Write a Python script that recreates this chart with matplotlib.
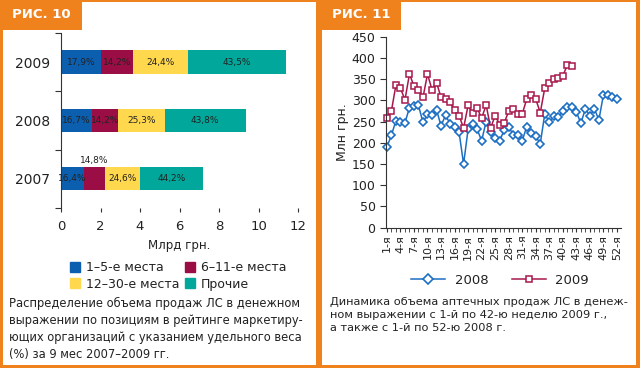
import matplotlib.pyplot as plt
from matplotlib.patches import Rectangle, Patch
from matplotlib.lines import Line2D
import numpy as np

plt.rcParams['font.family'] = ['DejaVu Sans']

ORANGE = '#F0821E'
BLUE = '#0B5FAE'
MAROON = '#9A0D45'
YELLOW = '#FFD84D'
TEAL = '#00A79A'
LBLUE = '#1C6FC2'
RED = '#A8174C'
TXT = '#222222'

# --- рис. 10: данные ---
years = ['2007', '2008', '2009']
totals = [7.17, 9.35, 11.39]          # млрд грн.
share_1_5 = [16.4, 16.7, 17.9]
share_6_11 = [14.8, 14.2, 14.2]
share_12_30 = [24.6, 25.3, 24.4]
share_other = [44.2, 43.8, 43.5]
legend_names = ['1–5-е места', '6–11-е места', '12–30-е места', 'Прочие']

# --- рис. 11: данные (млн грн.) ---
sales_2008 = [190, 218, 252, 250, 247, 283, 287, 288, 248, 268, 265, 278, 240,
              265, 245, 237, 225, 150, 232, 245, 232, 205, 250, 226, 212, 205,
              230, 238, 219, 219, 205, 238, 222, 215, 198, 268, 249, 262, 260,
              275, 284, 284, 273, 246, 280, 264, 280, 254, 313, 313, 309, 303]
sales_2009 = [258, 275, 336, 329, 301, 362, 334, 325, 307, 362, 325, 342, 307,
              303, 295, 278, 264, 235, 288, 271, 282, 258, 289, 235, 264, 243,
              247, 274, 279, 268, 268, 303, 313, 303, 271, 329, 340, 350, 352,
              358, 383, 380]
weeks_2008 = np.arange(1, len(sales_2008) + 1)
weeks_2009 = np.arange(1, len(sales_2009) + 1)
week_labels = ['%d-я' % w for w in range(1, 53, 3)]

W, H = 640, 368


def fx(p):
    return p / W


def fy(p):
    return 1 - p / H


def box(x0, y0, x1, y1, color, z):
    fig.add_artist(Rectangle((fx(x0), fy(y1)), (x1 - x0) / W, (y1 - y0) / H,
                             transform=fig.transFigure, color=color, lw=0,
                             zorder=z))


fig = plt.figure(figsize=(6.4, 3.68), dpi=100, facecolor=ORANGE)

# белые панели и вкладки (под осями)
box(3, 2, 316, 365, 'white', -10)
box(322, 2, 636, 365, 'white', -10)
box(0, 0, 82, 30, ORANGE, -9)
box(320, 0, 401, 30, ORANGE, -9)
fig.text(fx(12), fy(14), 'РИС. 10', color='white', fontsize=9.5,
         fontweight='bold', va='center')
fig.text(fx(332), fy(14), 'РИС. 11', color='white', fontsize=9.5,
         fontweight='bold', va='center')

# ---------------- рис. 10 ----------------
ax1 = fig.add_axes([fx(61), fy(208), (298 - 61) / W, 175 / H])
ax1.patch.set_alpha(0)
ypos = np.arange(len(years))
cols = [BLUE, MAROON, YELLOW, TEAL]
shares = [share_1_5, share_6_11, share_12_30, share_other]
left = np.zeros(len(years))
for k, sh in enumerate(shares):
    widths = np.array(totals) * np.array(sh) / 100
    ax1.barh(ypos, widths, left=left, height=0.4, color=cols[k], lw=0)
    for i in range(len(years)):
        lab = ('%.1f%%' % sh[i]).replace('.', ',')
        cx = left[i] + widths[i] / 2
        if i == 0 and k == 1:
            ax1.text(cx, ypos[i] + 0.24, lab, ha='center', va='bottom',
                     fontsize=6.5, color=TXT)
        else:
            ax1.text(cx, ypos[i], lab, ha='center', va='center',
                     fontsize=6.5, color=TXT)
    left += widths

ax1.set_xlim(0, 12)
ax1.set_ylim(-0.5, 2.5)
for s in ['top', 'right', 'bottom']:
    ax1.spines[s].set_visible(False)
ax1.spines['left'].set_color('#333333')
ax1.set_yticks([-0.5, 0.5, 1.5, 2.5])
ax1.set_yticklabels([])
ax1.set_yticks(ypos, minor=True)
ax1.set_yticklabels(years, minor=True, fontsize=10, color=TXT)
ax1.tick_params(axis='y', which='major', length=4, color='#333333')
ax1.tick_params(axis='y', which='minor', length=0, pad=8)
ax1.set_xticks(range(0, 13, 2))
ax1.tick_params(axis='x', length=3, color='#333333', labelsize=9.5,
                labelcolor=TXT, pad=6)
ax1.set_xlabel('Млрд грн.', fontsize=8.5, color=TXT, labelpad=4)

handles = [Patch(color=c) for c in cols]
order = [0, 2, 1, 3]
fig.legend([handles[i] for i in order], [legend_names[i] for i in order],
           ncol=2, loc='center', bbox_to_anchor=(fx(178), fy(276)),
           frameon=False, fontsize=9, handlelength=0.8, handleheight=0.8,
           handletextpad=0.5, columnspacing=0.4, labelspacing=0.25,
           labelcolor=TXT)

fig.text(fx(9), fy(297),
         'Распределение объема продаж ЛС в денежном\n'
         'выражении по позициям в рейтинге маркетиру-\n'
         'ющих организаций с указанием удельного веса\n'
         '(%) за 9 мес 2007–2009 гг.',
         fontsize=8.3, color=TXT, va='top', linespacing=1.4)

# ---------------- рис. 11 ----------------
ax2 = fig.add_axes([fx(386), fy(227.7), (621 - 386) / W, (227.7 - 36.7) / H])
ax2.patch.set_alpha(0)
ax2.plot(weeks_2008, sales_2008, color=LBLUE, lw=1.1, marker='D', ms=4.3,
         mfc='white', mew=1.2, clip_on=False, label='2008')
ax2.plot(weeks_2009, sales_2009, color=RED, lw=1.1, marker='s', ms=4.8,
         mfc='white', mew=1.1, clip_on=False, label='2009')
ax2.set_xlim(0.8, 52.9)
ax2.set_ylim(0, 450)
for s in ['top', 'right']:
    ax2.spines[s].set_visible(False)
ax2.spines['left'].set_color('#333333')
ax2.spines['bottom'].set_color('#333333')
ax2.set_yticks(range(0, 451, 50))
ax2.tick_params(axis='y', length=4, color='#333333', labelsize=9,
                labelcolor=TXT)
ax2.set_xticks(range(1, 53, 3))
ax2.set_xticklabels(week_labels, rotation=90, fontsize=8, color=TXT)
ax2.set_xticks(range(1, 53), minor=True)
ax2.tick_params(axis='x', which='both', length=3, color='#333333', pad=2)
ax2.set_ylabel('Млн грн.', fontsize=9, color=TXT, labelpad=2)

fig.legend(handles=[Line2D([], [], color=LBLUE, lw=1.1, marker='D', ms=5,
                           mfc='white', mew=1.2),
                    Line2D([], [], color=RED, lw=1.1, marker='s', ms=5,
                           mfc='white', mew=1.1)],
           labels=['2008', '2009'], ncol=2, loc='center',
           bbox_to_anchor=(fx(500), fy(280)), frameon=False, fontsize=9.5,
           handlelength=2.6, handletextpad=0.7, columnspacing=1.8,
           labelcolor=TXT)

fig.text(fx(330), fy(297),
         'Динамика объема аптечных продаж ЛС в денеж-\n'
         'ном выражении с 1-й по 42-ю неделю 2009 г.,\n'
         'а также с 1-й по 52-ю 2008 г.',
         fontsize=8.2, color=TXT, va='top', linespacing=1.4)

fig.savefig('out.png', dpi=100, facecolor=fig.get_facecolor())
